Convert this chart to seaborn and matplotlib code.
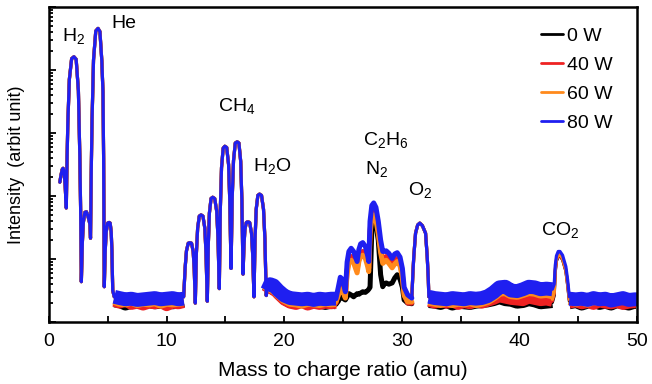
import numpy as np
import pandas as pd
import matplotlib
matplotlib.use("Agg")
import matplotlib.pyplot as plt
from matplotlib.lines import Line2D
from matplotlib.ticker import MultipleLocator, LogLocator, NullFormatter
import seaborn as sns

# ---------------- data (m/z in amu, log10 of intensity, arbitrary units) -------------
powers = ["0 W", "40 W", "60 W", "80 W"]
colors = ["#000000", "#ee2222", "#ff8a1c", "#1f1ff0"]

# peaks that coincide for all plasma powers: H, H2, H3, He, ...
mz_A = [0.92, 1.02, 1.12, 1.20, 1.28, 1.37, 1.47, 1.535, 1.60, 1.73, 1.925, 2.12,
        2.31, 2.50, 2.62, 2.69, 2.75, 2.836, 2.92, 3.05, 3.18, 3.30, 3.42, 3.48, 3.53,
        3.594, 3.658, 3.786, 3.978, 4.17, 4.33, 4.49, 4.59, 4.645, 4.70, 4.78, 4.864,
        4.99, 5.11, 5.20, 5.29, 5.35, 5.42, 5.55]
lg_A = [2.22, 2.33, 2.42, 2.44, 2.39, 2.18, 1.81, 2.58, 3.15, 3.85, 4.18, 4.21,
        4.17, 3.67, 2.64, 1.78, 0.64, 1.26, 1.58, 1.74, 1.75, 1.69, 1.60, 1.55, 1.33,
        2.40, 3.19, 4.16, 4.62, 4.66, 4.61, 4.15, 3.65, 2.60, 0.56, 1.13, 1.43,
        1.57, 1.58, 1.57, 1.43, 1.13, 0.50, 0.40]

# C, CH, CH2, CH3, CH4, OH, H2O
mz_B = [11.45, 11.58, 11.69, 11.84, 11.98, 12.12, 12.26, 12.35, 12.44,
        12.53, 12.64, 12.78, 12.93, 13.09, 13.25, 13.35, 13.46,
        13.55, 13.64, 13.78, 13.92, 14.09, 14.26, 14.37, 14.48,
        14.57, 14.67, 14.81, 14.95, 15.11, 15.27, 15.37, 15.48,
        15.58, 15.69, 15.84, 16.00, 16.15, 16.30, 16.40, 16.50,
        16.58, 16.66, 16.78, 16.90, 17.06, 17.22, 17.32, 17.43,
        17.52, 17.62, 17.76, 17.90, 18.07, 18.24, 18.36, 18.47, 18.55]
lg_B = [0.40, 0.87, 1.13, 1.25, 1.26, 1.25, 1.12, 0.84, 0.30,
        1.08, 1.49, 1.68, 1.70, 1.68, 1.49, 1.10, 0.33,
        1.25, 1.73, 1.96, 1.98, 1.96, 1.76, 1.34, 0.53,
        1.80, 2.45, 2.76, 2.79, 2.77, 2.50, 1.94, 0.85,
        1.98, 2.56, 2.84, 2.86, 2.84, 2.55, 1.94, 0.76,
        1.22, 1.47, 1.58, 1.59, 1.58, 1.41, 1.07, 0.40,
        1.31, 1.79, 2.01, 2.03, 2.01, 1.79, 1.32, 0.42, 0.50]

# O2
mz_O2 = [30.85, 30.95, 31.02, 31.17, 31.35, 31.53, 31.75, 32.02, 32.16, 32.25, 32.30]
lg_O2 = [0.38, 0.80, 1.04, 1.41, 1.54, 1.57, 1.53, 1.41, 1.04, 0.70, 0.40]

# C2Hx / N2 group, differs with power
mz_C = [24.4, 24.6, 24.77, 24.95, 25.2, 25.35, 25.5, 25.69, 25.9, 26.2, 26.35, 26.5,
        26.68, 26.9, 27.1, 27.19, 27.3, 27.45, 27.61, 27.8, 28.0, 28.2, 28.38, 28.5,
        28.67, 28.9, 29.18, 29.4, 29.61, 29.85, 30.05, 30.2, 30.5, 30.85]
lg_C_0W = [0.28, 0.33, 0.40, 0.38, 0.35, 0.40, 0.45, 0.43, 0.40, 0.45, 0.44, 0.46,
           0.48, 0.47, 0.50, 0.52, 0.55, 1.45, 1.63, 1.55, 1.30, 0.75, 0.56, 0.60,
           0.62, 0.60, 0.62, 0.70, 0.75, 0.68, 0.55, 0.35, 0.30, 0.29]
lg_C_40W = [0.30, 0.45, 0.59, 0.56, 0.40, 0.82, 0.99, 1.04, 0.99, 0.83, 1.02, 1.10,
            1.12, 1.07, 0.93, 0.85, 1.45, 1.70, 1.75, 1.68, 1.47, 1.15, 0.98, 1.00,
            1.04, 0.98, 0.90, 0.97, 1.01, 0.93, 0.75, 0.45, 0.30, 0.30]
lg_C_60W = [0.32, 0.42, 0.53, 0.50, 0.38, 0.77, 0.93, 0.98, 0.94, 0.78, 0.96, 1.04,
            1.06, 1.01, 0.88, 0.80, 1.40, 1.65, 1.70, 1.62, 1.40, 1.10, 0.93, 0.95,
            0.98, 0.93, 0.86, 0.92, 0.96, 0.89, 0.70, 0.42, 0.32, 0.32]
lg_C_80W = [0.37, 0.55, 0.71, 0.68, 0.48, 0.95, 1.12, 1.17, 1.12, 0.96, 1.15, 1.24,
            1.26, 1.20, 1.05, 0.96, 1.60, 1.85, 1.89, 1.82, 1.60, 1.30, 1.12, 1.12,
            1.13, 1.09, 1.01, 1.08, 1.10, 1.03, 0.85, 0.55, 0.43, 0.38]

# CO2
mz_CO2 = [42.8, 42.96, 43.05, 43.15, 43.3, 43.45, 43.67, 43.95, 44.1, 44.25]
lg_CO2_0W = [0.31, 0.42, 0.80, 0.97, 1.04, 1.05, 0.99, 0.81, 0.59, 0.33]
lg_CO2_40W = [0.33, 0.45, 0.82, 0.98, 1.05, 1.06, 1.00, 0.82, 0.60, 0.35]
lg_CO2_60W = [0.36, 0.47, 0.84, 1.00, 1.06, 1.07, 1.01, 0.83, 0.61, 0.36]
lg_CO2_80W = [0.52, 0.60, 0.90, 1.05, 1.12, 1.12, 1.06, 0.88, 0.67, 0.40]

# noisy background level between the peak groups
mz_base = [5.55, 6.0, 6.5, 7.0, 7.5, 8.0, 8.5, 9.0, 9.5, 10.0, 10.5, 11.0, 11.45,
           18.55, 18.8, 19.1, 19.5, 20.0, 20.5, 21.0, 21.5, 22.0, 22.5, 23.0, 23.5, 24.0, 24.4,
           32.3, 32.8, 33.3, 33.8, 34.3, 34.8, 35.3, 35.8, 36.3, 36.8, 37.3, 37.8, 38.3,
           38.8, 39.3, 39.8, 40.3, 40.8, 41.3, 41.8, 42.3, 42.8,
           44.25, 44.8, 45.3, 45.8, 46.3, 46.8, 47.3, 47.8, 48.3, 48.8, 49.3, 49.8, 50.0]
base_0W = [0.32, 0.31, 0.27, 0.30, 0.31, 0.30, 0.31, 0.29, 0.30, 0.31, 0.29, 0.30, 0.32,
           0.47, 0.56, 0.53, 0.45, 0.36, 0.31, 0.30, 0.32, 0.29, 0.31, 0.30, 0.28, 0.30, 0.29,
           0.31, 0.30, 0.28, 0.31, 0.27, 0.30, 0.29, 0.28, 0.30, 0.31, 0.32, 0.34, 0.37,
           0.34, 0.33, 0.30, 0.31, 0.34, 0.32, 0.29, 0.30, 0.31,
           0.29, 0.31, 0.27, 0.30, 0.32, 0.28, 0.30, 0.27, 0.31, 0.29, 0.27, 0.30, 0.29]
base_40W = [0.33, 0.30, 0.34, 0.28, 0.30, 0.27, 0.30, 0.29, 0.31, 0.26, 0.30, 0.29, 0.31,
            0.46, 0.55, 0.52, 0.44, 0.35, 0.30, 0.28, 0.31, 0.27, 0.30, 0.28, 0.30, 0.29, 0.30,
            0.33, 0.30, 0.33, 0.30, 0.32, 0.28, 0.31, 0.29, 0.32, 0.30, 0.33, 0.36, 0.40,
            0.38, 0.36, 0.35, 0.34, 0.38, 0.36, 0.34, 0.35, 0.33,
            0.30, 0.32, 0.29, 0.31, 0.28, 0.32, 0.30, 0.29, 0.31, 0.28, 0.30, 0.31, 0.30]
base_60W = [0.36, 0.33, 0.32, 0.35, 0.31, 0.33, 0.32, 0.34, 0.30, 0.33, 0.32, 0.33, 0.34,
            0.48, 0.57, 0.54, 0.46, 0.38, 0.33, 0.32, 0.30, 0.33, 0.32, 0.31, 0.33, 0.32, 0.33,
            0.35, 0.33, 0.31, 0.34, 0.31, 0.33, 0.32, 0.34, 0.31, 0.33, 0.36, 0.42, 0.49,
            0.50, 0.45, 0.44, 0.47, 0.50, 0.49, 0.46, 0.47, 0.45,
            0.36, 0.33, 0.35, 0.32, 0.36, 0.34, 0.38, 0.33, 0.35, 0.37, 0.34, 0.36, 0.35]
base_80W = [0.40, 0.38, 0.36, 0.37, 0.35, 0.36, 0.37, 0.38, 0.36, 0.37, 0.38, 0.36, 0.37,
            0.50, 0.60, 0.58, 0.50, 0.42, 0.38, 0.37, 0.36, 0.37, 0.35, 0.37, 0.36, 0.37, 0.37,
            0.40, 0.38, 0.37, 0.36, 0.38, 0.37, 0.36, 0.38, 0.37, 0.38, 0.41, 0.47, 0.55,
            0.56, 0.50, 0.49, 0.52, 0.56, 0.55, 0.52, 0.53, 0.52,
            0.37, 0.36, 0.37, 0.35, 0.38, 0.36, 0.37, 0.34, 0.36, 0.38, 0.35, 0.36, 0.36]

species = ["H$_\\mathregular{2}$", "He", "CH$_\\mathregular{4}$", "H$_\\mathregular{2}$O",
           "C$_\\mathregular{2}$H$_\\mathregular{6}$", "N$_\\mathregular{2}$",
           "O$_\\mathregular{2}$", "CO$_\\mathregular{2}$"]
species_mz = [2.1, 6.4, 16.0, 19.0, 26.7, 26.85, 31.6, 43.45]
species_lg = [4.52, 4.74, 3.42, 2.46, 2.88, 2.42, 2.08, 1.45]
species_ha = ["center", "center", "center", "center", "left", "left", "center", "center"]

# ---------------- build long tables ----------------
lg_C = dict(zip(powers, [lg_C_0W, lg_C_40W, lg_C_60W, lg_C_80W]))
lg_CO2 = dict(zip(powers, [lg_CO2_0W, lg_CO2_40W, lg_CO2_60W, lg_CO2_80W]))
base = dict(zip(powers, [base_0W, base_40W, base_60W, base_80W]))


def frame(mz, lg, power, part):
    return pd.DataFrame({"mz": mz, "intensity": np.power(10.0, np.asarray(lg, float)),
                         "power": power, "part": part})


thin, noisy, band = [], [], []
seg_id = np.concatenate([[0], np.cumsum(np.diff(mz_base) > 0.8)])
for p in powers:
    thin += [frame(mz_A, lg_A, p, "A"), frame(mz_B, lg_B, p, "B"),
             frame(mz_O2, lg_O2, p, "O2"), frame(mz_CO2, lg_CO2[p], p, "CO2")]
    noisy.append(frame(mz_C, lg_C[p], p, "C"))
    b = frame(mz_base, base[p], p, "base")
    b["part"] = seg_id
    band.append(b)
thin = pd.concat(thin, ignore_index=True)
noisy = pd.concat(noisy, ignore_index=True)
band = pd.concat(band, ignore_index=True)

# ---------------- plot ----------------
sns.set_style("ticks")
plt.rcParams["font.family"] = ["Liberation Sans", "DejaVu Sans"]
plt.rcParams["mathtext.fontset"] = "custom"
plt.rcParams["mathtext.rm"] = "Liberation Sans"
for k in ["text.color", "axes.labelcolor", "xtick.color", "ytick.color"]:
    plt.rcParams[k] = "black"

fig = plt.figure(figsize=(6.52, 3.84), dpi=100)
ax = fig.add_axes([49 / 652, 1 - 322 / 384, 588 / 652, 315 / 384])

band_lw = [8, 8, 8, 10]
for p, c, blw in zip(powers, colors, band_lw):
    sns.lineplot(data=band[band.power == p], x="mz", y="intensity", units="part",
                 estimator=None, sort=False, color=c, lw=blw, solid_capstyle="butt",
                 legend=False, ax=ax)
    sns.lineplot(data=noisy[noisy.power == p], x="mz", y="intensity", units="part",
                 estimator=None, sort=False, color=c, lw=3.6, legend=False, ax=ax)
    sns.lineplot(data=thin[thin.power == p], x="mz", y="intensity", units="part",
                 estimator=None, sort=False, color=c, lw=2.3, legend=False, ax=ax)

ax.set_yscale("log")
ax.set_xlim(0, 50)
ax.set_ylim(1, 1e5)
ax.xaxis.set_major_locator(MultipleLocator(10))
ax.xaxis.set_minor_locator(MultipleLocator(5))
ax.yaxis.set_major_locator(LogLocator(base=10, numticks=10))
ax.yaxis.set_minor_locator(LogLocator(base=10, subs=np.arange(2, 10), numticks=10))
ax.yaxis.set_major_formatter(NullFormatter())
ax.yaxis.set_minor_formatter(NullFormatter())
ax.tick_params(axis="both", which="both", direction="in", width=1.3, colors="black",
               top=False, right=False)
ax.tick_params(axis="x", which="both", length=4, pad=8, labelsize=14)
ax.tick_params(axis="y", which="major", length=5)
ax.tick_params(axis="y", which="minor", length=3)
for s in ax.spines.values():
    s.set_linewidth(1.8)
    s.set_color("black")

ax.set_xlabel("Mass to charge ratio (amu)", fontsize=15, labelpad=8)
ax.set_ylabel("Intensity  (arbit unit)", fontsize=13, labelpad=14)

for lab, x, y, ha in zip(species, species_mz, species_lg, species_ha):
    ax.text(x, 10 ** y, lab, ha=ha, va="center", fontsize=14)

handles = [Line2D([], [], color=c, lw=2) for c in colors]
ax.legend(handles, powers, loc="upper right", bbox_to_anchor=(0.958, 0.935),
          frameon=False, fontsize=14, handlelength=1.1, handletextpad=0.2,
          labelspacing=0.58, borderpad=0, borderaxespad=0)

fig.savefig("out.png", dpi=100)
